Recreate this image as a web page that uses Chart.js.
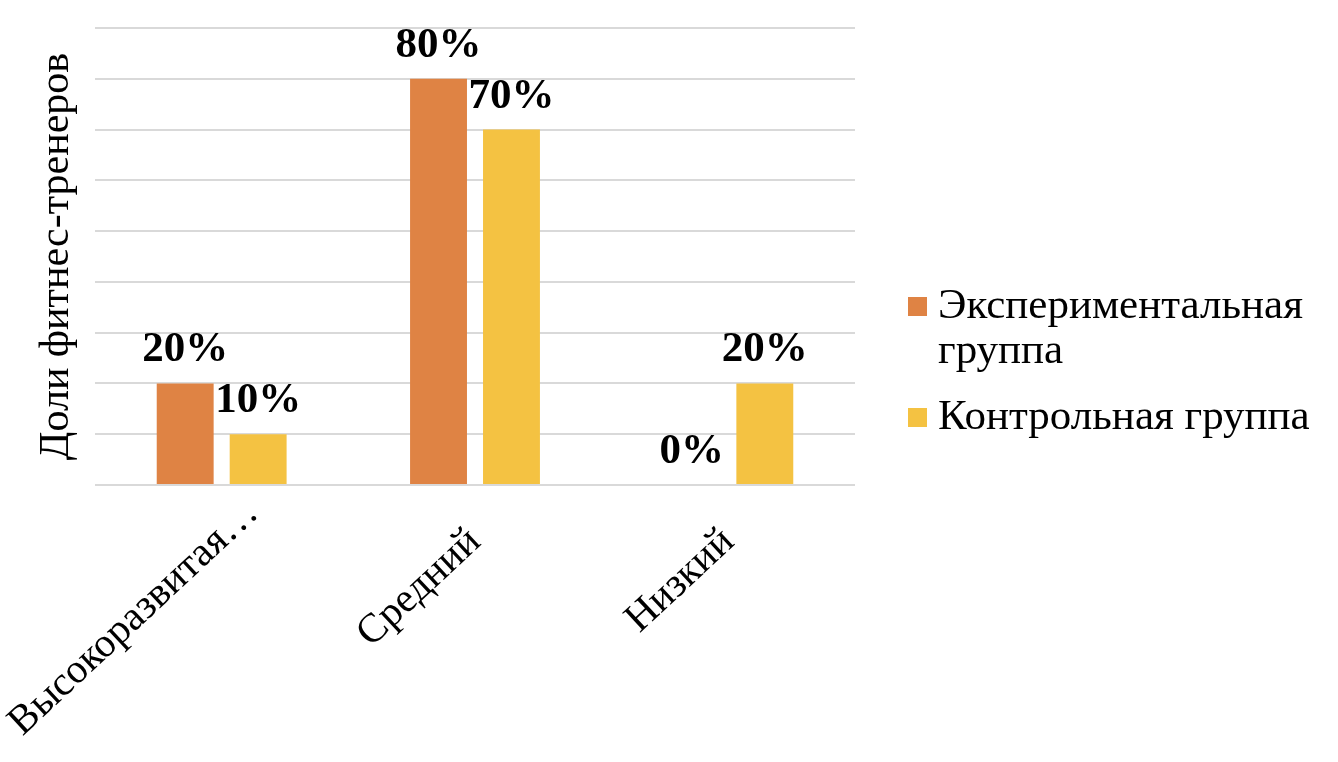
<!DOCTYPE html>
<html>
<head>
<meta charset="utf-8">
<script src="https://cdn.jsdelivr.net/npm/chart.js@4.4.1/dist/chart.umd.min.js"></script>
<style>
html,body{margin:0;padding:0;background:#fff;}
#wrap{width:1338px;height:762px;position:relative;}
</style>
</head>
<body>
<div id="wrap"><canvas id="c" width="1338" height="762"></canvas></div>
<script>
const categories = ["Высокоразвитая…", "Средний", "Низкий"];
const seriesNames = ["Экспериментальная группа", "Контрольная группа"];
const legendLines = [["Экспериментальная", "группа"], ["Контрольная группа"]];
const experimental = [20, 80, 0];
const control = [10, 70, 20];
const yTitle = "Доли фитнес-тренеров";
const colors = ["#DF8344", "#F4C242"];

const FONT = "'Liberation Serif', 'Times New Roman', serif";
const TICK_SIZE = 41, TICK_ROT = 43, TICK_PAD = 33, LABEL_BOX_MAX = 240;

const labelsPlugin = {
  id: 'valueLabels',
  afterDatasetsDraw(chart) {
    const ctx = chart.ctx;
    ctx.save();
    ctx.font = "bold 43px " + FONT;
    ctx.fillStyle = "#000";
    ctx.textAlign = "center";
    ctx.textBaseline = "alphabetic";
    chart.data.datasets.forEach((ds, i) => {
      const meta = chart.getDatasetMeta(i);
      meta.data.forEach((el, j) => {
        ctx.fillText(ds.data[j] + "%", el.x, el.y - 22);
      });
    });
    ctx.restore();
  }
};

// category labels: rotated, end anchored at the tick; an over-long (truncated)
// label overflows its fixed-size label box evenly on both sides
const catLabelPlugin = {
  id: 'catLabels',
  afterDraw(chart) {
    const xs = chart.scales.x;
    const ctx = chart.ctx;
    const rot = -TICK_ROT * Math.PI / 180;
    const lh = TICK_SIZE * 1.2;
    ctx.save();
    ctx.font = TICK_SIZE + "px " + FONT;
    ctx.fillStyle = "#000";
    ctx.textAlign = "right";
    ctx.textBaseline = "middle";
    xs.ticks.forEach((t, i) => {
      const text = chart.data.labels[i];
      const w = ctx.measureText(text).width;
      const shift = w > LABEL_BOX_MAX ? (w - LABEL_BOX_MAX) / 2 : 0;
      const px = xs.getPixelForTick(i) + (lh / 2) * Math.sin(rot);
      ctx.save();
      ctx.translate(px, xs.top + TICK_PAD);
      ctx.rotate(rot);
      ctx.fillText(text, shift, lh / 2);
      ctx.restore();
    });
    ctx.restore();
  }
};

const legendPlugin = {
  id: 'sideLegend',
  afterDraw(chart) {
    const ctx = chart.ctx;
    ctx.save();
    ctx.font = "43px " + FONT;
    ctx.textAlign = "left";
    ctx.textBaseline = "alphabetic";
    const x0 = 908, sq = 19, tx = 938;
    const baselines = [318, 429];
    chart.data.datasets.forEach((ds, i) => {
      const b = baselines[i];
      ctx.fillStyle = ds.backgroundColor;
      ctx.fillRect(x0, b - 21, sq, sq);
      ctx.fillStyle = "#000";
      legendLines[i].forEach((ln, k) => ctx.fillText(ln, tx, b + k * 45));
    });
    ctx.restore();
  }
};

new Chart(document.getElementById('c'), {
  type: 'bar',
  data: {
    labels: categories,
    datasets: [
      { label: seriesNames[0], data: experimental, backgroundColor: colors[0] },
      { label: seriesNames[1], data: control, backgroundColor: colors[1] }
    ]
  },
  options: {
    responsive: false,
    animation: false,
    events: [],
    layout: { autoPadding: false, padding: { top: 28, right: 483, left: 0, bottom: 0 } },
    categoryPercentage: 0.576,
    barPercentage: 0.78,
    plugins: { legend: { display: false }, tooltip: { enabled: false } },
    scales: {
      x: {
        grid: { display: false },
        border: { display: false },
        ticks: { display: false, autoSkip: false },
        afterFit(s) { s.height = 277; s.paddingLeft = 0; s.paddingRight = 0; }
      },
      y: {
        min: 0, max: 90,
        ticks: { stepSize: 10, display: false },
        grid: { color: "#d9d9d9", lineWidth: 2, drawTicks: false },
        border: { display: false },
        title: { display: true, text: yTitle, color: "#000", font: { family: FONT, size: 42 }, padding: { top: 32, bottom: 0 } },
        afterFit(s) { s.width = 95; s.paddingTop = 0; s.paddingBottom = 0; }
      }
    }
  },
  plugins: [labelsPlugin, catLabelPlugin, legendPlugin]
});
</script>
</body>
</html>
